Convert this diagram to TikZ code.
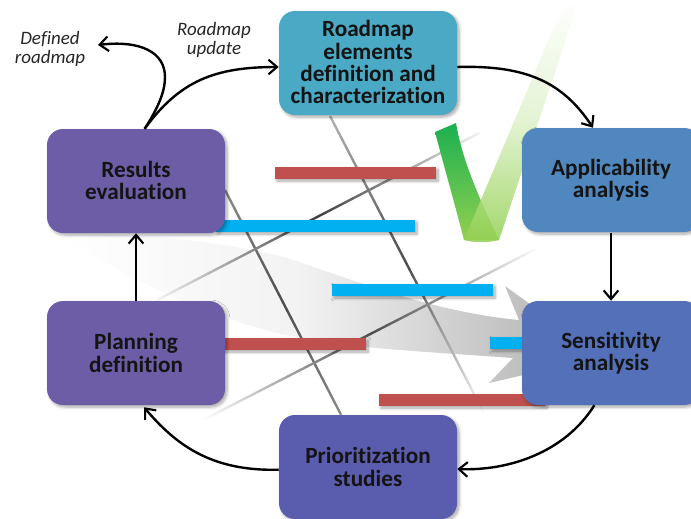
\documentclass[tikz,border=0pt]{standalone}
\usepackage{fontspec}
\setmainfont{Carlito}[Ligatures=CommonOff]
\usetikzlibrary{arrows.meta,shadows.blur,calc}
\definecolor{cRoad}{HTML}{4AA9C4}
\definecolor{cAppl}{HTML}{4F87BE}
\definecolor{cSens}{HTML}{5470B8}
\definecolor{cPrio}{HTML}{5A5CAE}
\definecolor{cPurp}{HTML}{6C5DA6}
\definecolor{cRed}{HTML}{C0504D}
\definecolor{cBlue}{HTML}{00B0F0}
\definecolor{cGreenA}{HTML}{1BB050}
\definecolor{cGreenB}{HTML}{92D050}
\newcommand{\liftfix}{\rule[-1.5pt]{0pt}{1pt}}
\tikzset{
  softshadow/.style={blur shadow={shadow xshift=1.5pt,shadow yshift=-1.5pt,shadow blur steps=6,shadow blur radius=2.2pt,shadow opacity=35}},
  stagebox/.style={rectangle,rounded corners=12pt,minimum width=133.5pt,minimum height=78pt,inner sep=0pt,align=center,
    font=\bfseries\fontsize{17.4}{16.6}\selectfont,text=black!92,softshadow},
  barbase/.style={softshadow},
  flow/.style={draw=black,line width=1.8pt,-{Straight Barb[length=6.5pt,width=11pt,line width=1.6pt]}},
  note/.style={align=center,inner sep=0pt,font=\itshape\fontsize{14.2}{14.4}\selectfont,text=black!85},
}
\begin{document}
\begin{tikzpicture}[x=0.75pt,y=-0.75pt]
\useasboundingbox (0,0) rectangle (691,518);
\clip (0,0) rectangle (691,518);
% big grey arrow
\shade[left color=white,right color=black!27,middle color=black!5]
  (60,235) .. controls (150,232) and (240,245) .. (287,258)
  .. controls (340,275) and (430,312) .. (519,320) -- (505,286) -- (545,315) -- (545,370) -- (489,383) -- (513,358)
  .. controls (430,352) and (350,348) .. (300,338)
  .. controls (210,320) and (130,280) .. (60,235) -- cycle;
% crossing grey lines
\begin{scope}[shift={(330,116)},rotate=-62.6]
  \shade[left color=black!30,right color=white,middle color=black!70] (0,-1.2) rectangle (334,1.2);
\end{scope}
\begin{scope}[shift={(225,190)},rotate=-62.7]
  \shade[left color=black!45,right color=black!45,middle color=black!70] (0,-1.2) rectangle (253,1.2);
\end{scope}
\begin{scope}[shift={(157,300)},rotate=27.4]
  \shade[left color=black!5,right color=black!5,middle color=black!75] (0,-1.2) rectangle (363,1.2);
\end{scope}
\begin{scope}[shift={(203,420)},rotate=27.2]
  \shade[left color=white,right color=white,middle color=black!70] (0,-1.2) rectangle (378,1.2);
\end{scope}
% check mark
\shade[top color=cGreenA,bottom color=cGreenB]
  (435,132) -- (456,123) .. controls (462,160) and (480,200) .. (499,240)
  -- (464,240) .. controls (455,205) and (445,170) .. (435,132) -- cycle;
\shade[top color=white,bottom color=cGreenB,middle color=cGreenB!30!white,fill opacity=.85]
  (464,240) -- (559,15) -- (579,0) -- (499,240) .. controls (488,243) and (475,243) .. (464,240) -- cycle;
% bars
\fill[cRed,barbase] (275,167) rectangle (436,179);
\fill[cBlue,barbase] (216,220) rectangle (415,232);
\fill[cBlue,barbase] (332,284) rectangle (493,296);
\fill[cBlue,barbase] (490,337) rectangle (530,349);
\fill[cRed,barbase] (222,338) rectangle (366,350);
\fill[cRed,barbase] (379,394) rectangle (545,406);
% stages
\node[stagebox,fill=cRoad] (road) at (368,63) {Roadmap\\elements\\definition and\\characterization\liftfix};
\node[stagebox,fill=cAppl] (appl) at (611,180) {Applicability\\analysis};
\node[stagebox,fill=cSens] (sens) at (611,353) {Sensitivity\\analysis};
\node[stagebox,fill=cPrio] (prio) at (368,467) {Prioritization\\studies};
\node[stagebox,fill=cPurp] (plan) at (136,353) {Planning\\definition};
\node[stagebox,fill=cPurp] (resu) at (136,181) {Results\\evaluation\liftfix};
% labels
\node[note] (defined) at (50,49) {Defined\\roadmap};
\node[note] (update) at (214,40) {Roadmap\\update};
\coordinate (definedtip) at (98,45);
% connectors
\draw[flow] ([xshift=6.5pt]resu.north) .. controls (158,108) and (165,92) .. (165,77) .. controls (165,52) and (140,40) .. (definedtip);
\draw[flow] ([xshift=6.5pt]resu.north) .. controls +(35,-48) and (215,67) .. (road.west|-0,67);
\draw[flow] (road.east|-0,67) .. controls +(70,-2) and +(-30,-45) .. ([xshift=-13.5pt]appl.north);
\draw[flow] (appl) ++(0,53) -- (sens.north);
\draw[flow] ([xshift=-12.5pt]sens.south) .. controls +(-30,48) and +(50,2) .. ([yshift=-1.5pt]prio.east);
\draw[flow] ([yshift=-2pt]prio.west) .. controls +(-70,2) and +(30,35) .. ([xshift=6pt,yshift=-1.5pt]plan.south);
\draw[flow] (plan.north) -- (resu.south);
\end{tikzpicture}
\end{document}
